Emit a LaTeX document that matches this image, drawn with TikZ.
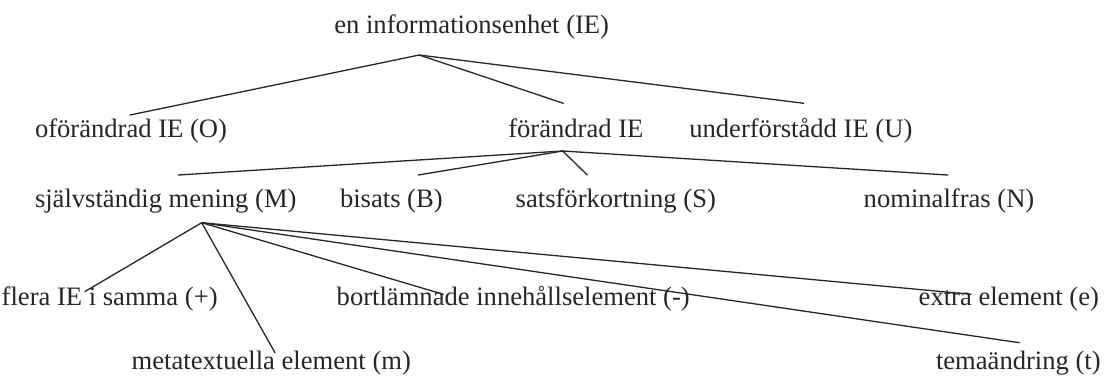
\documentclass[tikz,border=0pt]{standalone}
\usepackage{fontspec}
\setmainfont{Liberation Serif}
\begin{document}
\begin{tikzpicture}[x=1pt,y=-1pt,
  term/.style={anchor=base west, inner sep=0pt, outer sep=0pt,
               text=black!85, font=\fontsize{26.6}{32}\selectfont},
  branch/.style={line width=1.3pt, line cap=round, color=black!85}]
\useasboundingbox (0,0) rectangle (1106,376);

% level 0
\node[term] (ie) at (334.3,33.3) {en informationsenhet (IE)};

% level 1
\node[term] (o) at (35,137.7)    {oförändrad IE (O)};
\node[term] (f) at (508.3,137.7) {förändrad IE};
\node[term] (u) at (689.3,137.7) {underförstådd IE (U)};

% level 2
\node[term] (m) at (35,207.3)    {självständig mening (M)};
\node[term] (b) at (340,207.3)   {bisats (B)};
\node[term] (s) at (515.7,207.3) {satsförkortning (S)};
\node[term] (n) at (863.7,207.3) {nominalfras (N)};

% level 3
\node[term] (plus)  at (1.7,305.3)   {flera IE i samma (+)};
\node[term] (minus) at (336.7,305.3) {bortlämnade innehållselement (-)};
\node[term] (extra) at (918.7,305.3) {extra element (e)};
\node[term] (meta)  at (131.7,369.5) {metatextuella element (m)};
\node[term] (tema)  at (936,369)     {temaändring (t)};

% branching points under each parent
\coordinate (ie-fork) at (419.3,55);
\coordinate (f-fork)  at (562.7,151);
\coordinate (m-fork)  at (201.7,222.7);

% ends of the branches above each child
\coordinate (o-end)     at (130,115);
\coordinate (f-end)     at (563.3,103.3);
\coordinate (u-end)     at (803.7,103.3);
\coordinate (m-end)     at (178.3,175);
\coordinate (b-end)     at (418.3,175);
\coordinate (s-end)     at (587.3,175);
\coordinate (n-end)     at (947.7,175);
\coordinate (plus-end)  at (85,291.5);
\coordinate (meta-end)  at (275,352.7);
\coordinate (minus-end) at (443.3,294.3);
\coordinate (extra-end) at (971,294.3);
\coordinate (tema-end)  at (1019.3,342.7);

\draw[branch] (ie-fork) -- (o-end);
\draw[branch] (ie-fork) -- (f-end);
\draw[branch] (ie-fork) -- (u-end);

\draw[branch] (f-fork) -- (m-end);
\draw[branch] (f-fork) -- (b-end);
\draw[branch] (f-fork) -- (s-end);
\draw[branch] (f-fork) -- (n-end);

\draw[branch] (m-fork) -- (plus-end);
\draw[branch] (m-fork) -- (meta-end);
\draw[branch] (m-fork) -- (minus-end);
\draw[branch] (m-fork) -- (extra-end);
\draw[branch] (m-fork) -- (tema-end);
\end{tikzpicture}
\end{document}
